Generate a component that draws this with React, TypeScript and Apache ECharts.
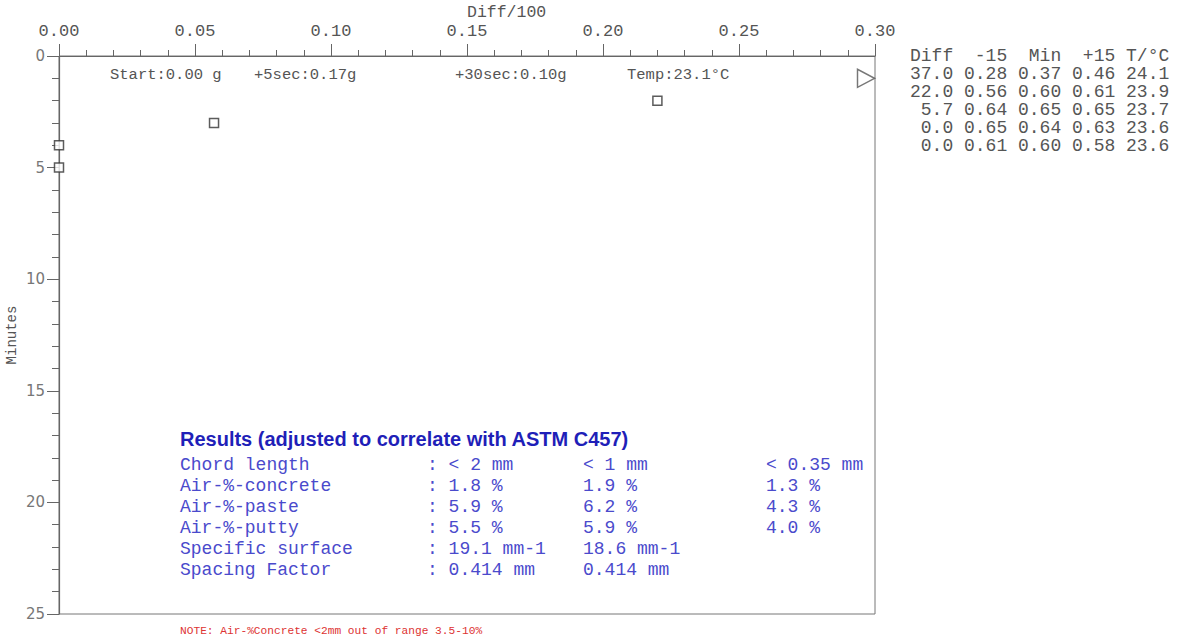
import React, { useEffect, useRef } from "react";
import * as echarts from "echarts";

// ---- data ----
const minutes = [1, 2, 3, 4, 5];
const diff = [37.0, 22.0, 5.7, 0.0, 0.0];
const minus15 = [0.28, 0.56, 0.64, 0.65, 0.61];
const minVals = [0.37, 0.6, 0.65, 0.64, 0.6];
const plus15 = [0.46, 0.61, 0.65, 0.63, 0.58];
const temps = [24.1, 23.9, 23.7, 23.6, 23.6];

const xMin = 0;
const xMax = 0.3;
const xInterval = 0.05;
const yMin = 0;
const yMax = 25;
const yInterval = 5;

const yAxisTitle = "Minutes";
const xAxisTitle = "Diff/100";
const annotations = ["Start:0.00 g", "+5sec:0.17g", "+30sec:0.10g", "Temp:23.1°C"];

const resultsTitle = "Results (adjusted to correlate with ASTM C457)";
const resultLabels = ["Chord length", "Air-%-concrete", "Air-%-paste", "Air-%-putty", "Specific surface", "Spacing Factor"];
const resultCol1 = [": < 2 mm", ": 1.8 %", ": 5.9 %", ": 5.5 %", ": 19.1 mm-1", ": 0.414 mm"];
const resultCol2 = ["< 1 mm", "1.9 %", "6.2 %", "5.9 %", "18.6 mm-1", "0.414 mm"];
const resultCol3 = ["< 0.35 mm", "1.3 %", "4.3 %", "4.0 %", "", ""];
const noteText = "NOTE: Air-%Concrete <2mm out of range 3.5-10%";

const MONO = "'Liberation Mono', 'DejaVu Sans Mono', monospace";

export default function App() {
  const ref = useRef<HTMLDivElement>(null);
  useEffect(() => {
    if (!ref.current) return;
    const chart = echarts.init(ref.current, null, { renderer: "svg" });

    const inRange: number[][] = [];
    const overRange: number[][] = [];
    minutes.forEach((m, i) => {
      const v = diff[i] / 100;
      if (v > xMax) overRange.push([xMax, m]);
      else inRange.push([v, m]);
    });

    const graphics: any[] = [];
    graphics.push({
      type: "text",
      left: 467,
      top: 4,
      style: { text: xAxisTitle, font: `16.5px ${MONO}`, fill: "#555" },
    });
    graphics.push({
      type: "text",
      x: 12,
      y: 335,
      rotation: Math.PI / 2,
      style: {
        text: yAxisTitle,
        font: `14px ${MONO}`,
        fill: "#555",
        align: "center",
        verticalAlign: "middle",
      },
    });
    const annX = [110, 254, 455, 627];
    annotations.forEach((t, i) => {
      graphics.push({
        type: "text",
        left: annX[i],
        top: 67,
        style: { text: t, font: `15.5px ${MONO}`, fill: "#555" },
      });
    });
    // right table
    const header = "Diff  -15  Min  +15 T/°C";
    const rows = minutes.map(
      (_, i) =>
        `${diff[i].toFixed(1).padStart(4)} ${minus15[i].toFixed(2)} ${minVals[i].toFixed(2)} ${plus15[i].toFixed(2)} ${temps[i].toFixed(1)}`
    );
    [header, ...rows].forEach((t, i) => {
      graphics.push({
        type: "text",
        left: 910,
        top: 47 + i * 18,
        style: { text: t, font: `18px ${MONO}`, fill: "#555" },
      });
    });
    // results block
    graphics.push({
      type: "text",
      left: 180,
      top: 429,
      style: { text: resultsTitle, font: `bold 20px 'Liberation Sans', Arial, sans-serif`, fill: "#1f1fb8" },
    });
    const colX = [180, 427, 583, 766];
    const cols = [resultLabels, resultCol1, resultCol2, resultCol3];
    resultLabels.forEach((_, r) => {
      cols.forEach((col, c) => {
        if (!col[r]) return;
        graphics.push({
          type: "text",
          left: colX[c],
          top: 456 + r * 21,
          style: { text: col[r], font: `18px ${MONO}`, fill: "#4a4acc" },
        });
      });
    });
    graphics.push({
      type: "text",
      left: 180,
      top: 625,
      style: { text: noteText, font: `11.2px ${MONO}`, fill: "#d33" },
    });

    chart.setOption({
      animation: false,
      backgroundColor: "#fff",
      grid: {
        left: 59,
        top: 56,
        width: 816,
        height: 558,
        outerBoundsMode: "none",
        containLabel: false,
        show: true,
        borderColor: "#777",
        borderWidth: 1,
        backgroundColor: "transparent",
      },
      xAxis: {
        type: "value",
        position: "top",
        min: xMin,
        max: xMax,
        interval: xInterval,
        axisLine: { show: true, lineStyle: { color: "#666", width: 1.2 } },
        axisTick: { show: true, inside: false, length: 12, lineStyle: { color: "#666" } },
        minorTick: { show: true, splitNumber: 5, length: 6, lineStyle: { color: "#666" } },
        splitLine: { show: false },
        axisLabel: {
          margin: 16,
          fontFamily: MONO,
          fontSize: 17,
          color: "#555",
          formatter: (v: number) => v.toFixed(2),
        },
      },
      yAxis: {
        type: "value",
        inverse: true,
        min: yMin,
        max: yMax,
        interval: yInterval,
        axisLine: { show: true, lineStyle: { color: "#666", width: 1.2 } },
        axisTick: { show: true, inside: false, length: 12, lineStyle: { color: "#666" } },
        minorTick: { show: true, splitNumber: 5, length: 7, lineStyle: { color: "#666" } },
        splitLine: { show: false },
        axisLabel: {
          margin: 14,
          fontFamily: "'DejaVu Sans', Verdana, sans-serif",
          fontSize: 15,
          color: "#777",
        },
      },
      series: [
        {
          type: "scatter",
          data: inRange,
          symbol: "rect",
          symbolSize: 9,
          clip: false,
          itemStyle: { color: "#fff", borderColor: "#333", borderWidth: 1.5 },
        },
        {
          type: "scatter",
          data: overRange,
          symbol: "triangle",
          symbolSize: [18, 17],
          symbolRotate: -90,
          symbolOffset: [-9, 0],
          clip: false,
          itemStyle: { color: "#fff", borderColor: "#555", borderWidth: 1.5 },
        },
      ],
      graphic: graphics,
    });
    return () => chart.dispose();
  }, []);
  return <div ref={ref} style={{ position: "fixed", left: 0, top: 0, width: 1181, height: 640 }} />;
}
